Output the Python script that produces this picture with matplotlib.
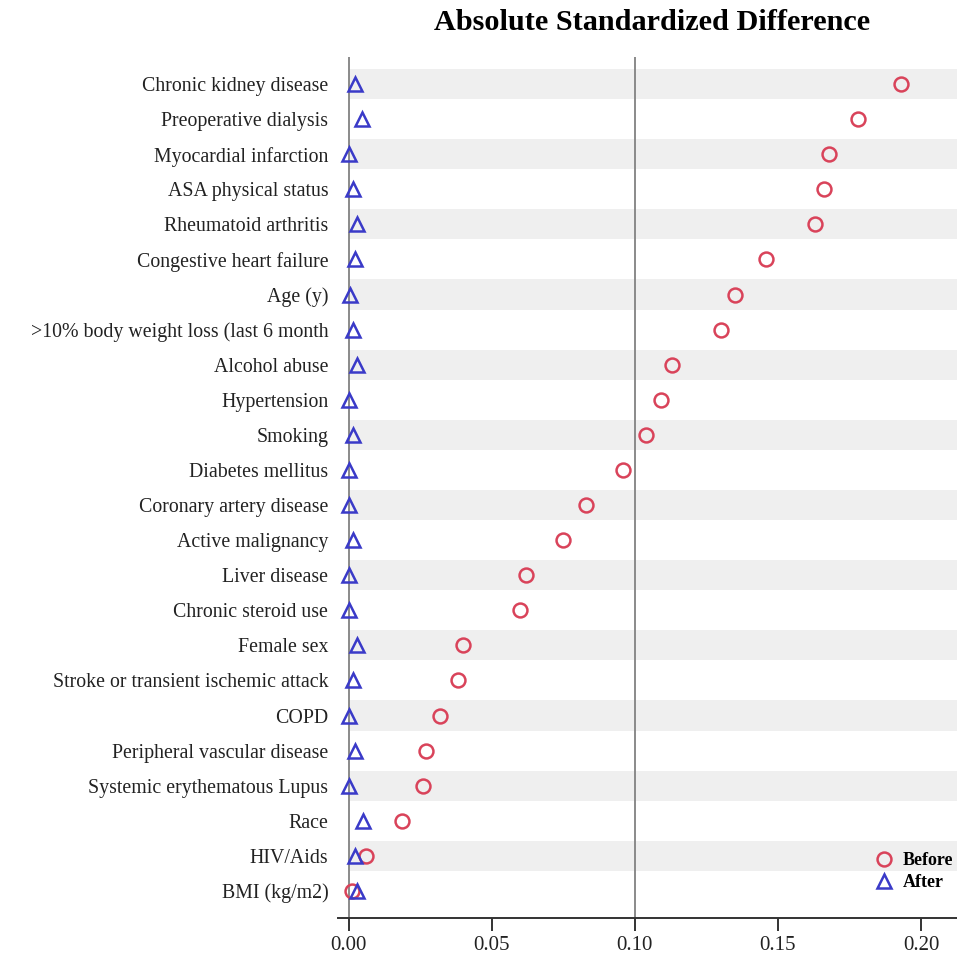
import matplotlib
matplotlib.use("Agg")
import matplotlib.pyplot as plt
import numpy as np

categories = [
    "Chronic kidney disease", "Preoperative dialysis", "Myocardial infarction",
    "ASA physical status", "Rheumatoid arthritis", "Congestive heart failure",
    "Age (y)", ">10% body weight loss (last 6 month", "Alcohol abuse",
    "Hypertension", "Smoking", "Diabetes mellitus", "Coronary artery disease",
    "Active malignancy", "Liver disease", "Chronic steroid use", "Female sex",
    "Stroke or transient ischemic attack", "COPD", "Peripheral vascular disease",
    "Systemic erythematous Lupus", "Race", "HIV/Aids", "BMI (kg/m2)",
]
before = [0.193, 0.178, 0.168, 0.166, 0.163, 0.146, 0.135, 0.130, 0.113,
          0.109, 0.104, 0.096, 0.083, 0.075, 0.062, 0.060, 0.040, 0.038,
          0.032, 0.027, 0.026, 0.0185, 0.006, 0.001]
after = [0.002, 0.0045, 0.0, 0.0015, 0.003, 0.002, 0.0003, 0.0015, 0.003,
         0.0, 0.0015, 0.0, 0.0, 0.0015, 0.0, 0.0, 0.003, 0.0015,
         0.0, 0.002, 0.0, 0.005, 0.002, 0.003]
xticks = [0.00, 0.05, 0.10, 0.15, 0.20]
xtick_labels = ["0.00", "0.05", "0.10", "0.15", "0.20"]

plt.rcParams['font.family'] = ['Liberation Serif', 'DejaVu Serif']

fig = plt.figure(figsize=(9.57, 9.55), dpi=100)
ax = fig.add_axes([338/957, 1-918/955, 1-338/957, (918-57)/955])

n = len(categories)
y = np.arange(n)
xmin, xmax = -0.0038, 0.2126

for i in range(0, n, 2):
    ax.fill_between([0, xmax], i-0.43, i+0.43, color="#efefef", lw=0, zorder=0)

ax.axvline(0.0, color="#8a8a8a", lw=1.4, zorder=1)
ax.axvline(0.10, color="#8a8a8a", lw=1.4, zorder=1)

red = "#d9435a"
blue = "#3a3ac8"
ax.plot(before, y, linestyle="none", marker="o", ms=10, mfc="none", mec=red,
        mew=1.8, zorder=3, label="Before")
ax.plot(after, y, linestyle="none", marker="^", ms=10, mfc="none", mec=blue,
        mew=1.8, zorder=3, label="After")

ax.set_xlim(xmin, xmax)
ax.set_ylim(n - 1 + 0.77, -0.77)
ax.set_yticks(y)
ax.set_yticklabels(categories, fontsize=14.3, color="#222222")
ax.tick_params(axis="y", length=0, pad=7)
ax.set_xticks(xticks)
ax.set_xticklabels(xtick_labels, fontsize=15, color="#222222")
ax.tick_params(axis="x", length=9, width=1.4, color="#333333", pad=4)

for s in ["top", "right", "left"]:
    ax.spines[s].set_visible(False)
ax.spines["bottom"].set_color("#333333")
ax.spines["bottom"].set_linewidth(1.4)

leg = ax.legend(loc="lower right", frameon=False, handletextpad=0.5,
                borderaxespad=0.0, labelspacing=0.25, handlelength=1.0,
                prop={"weight": "bold", "size": 13}, bbox_to_anchor=(1.005, 0.023))

fig.text(652/957, 1-23/955, "Absolute Standardized Difference", ha="center",
         va="center", fontsize=21.8, fontweight="bold")

fig.savefig("out.png", dpi=100)
